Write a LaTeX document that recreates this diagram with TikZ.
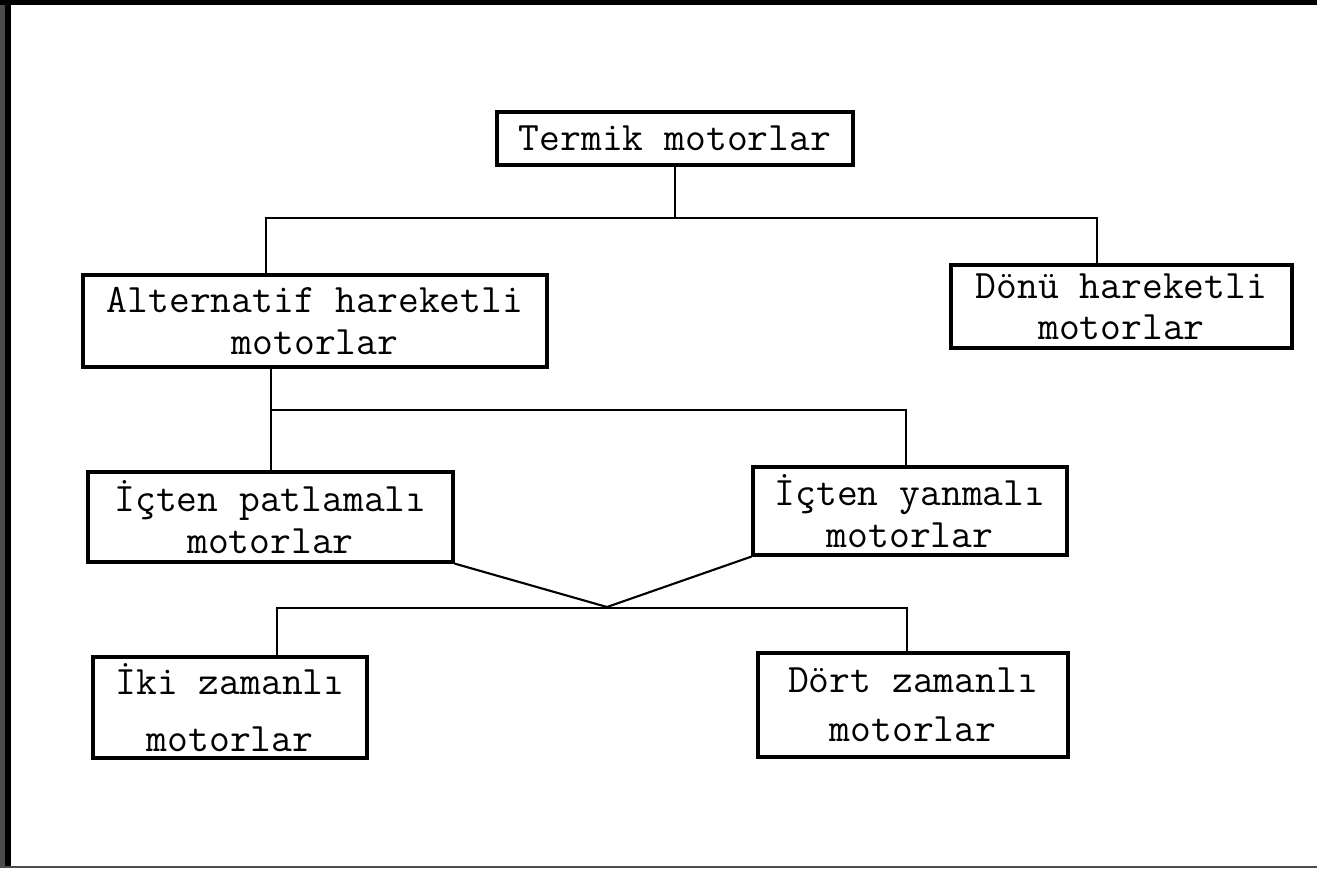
\documentclass[tikz,border=0pt]{standalone}
\begin{document}
\begin{tikzpicture}[x=0.02cm,y=-0.02cm,
  box/.style={draw,line width=1.8pt,align=center,inner sep=0pt,
    font=\ttfamily\fontsize{23}{23.5}\selectfont},
  link/.style={line width=1.2pt}]
  \useasboundingbox (0,0) rectangle (1317,868);
  % scan frame
  \fill[black!70] (0,0) rectangle (5,868);
  \fill[black] (5,0) rectangle (11,868);
  \fill[black] (0,0) rectangle (1317,5);
  \fill[black!70] (0,866) rectangle (1317,868);
  % boxes
  \node[box,minimum width=7.12cm,minimum height=1.06cm] (termik) at (675,138.5) {Termik motorlar};
  \node[box,minimum width=9.28cm,minimum height=1.84cm] (altern) at (315,321) {Alternatif hareketli\\motorlar};
  \node[box,minimum width=6.82cm,minimum height=1.66cm] (donu) at (1121.5,306.5) {Dönü hareketli\\motorlar};
  \node[box,minimum width=7.3cm,minimum height=1.8cm] (patla) at (270.5,517) {İçten patlamalı\\motorlar};
  \node[box,minimum width=6.28cm,minimum height=1.76cm] (yanma) at (910,511) {İçten yanmalı\\motorlar};
  \node[box,minimum width=5.48cm,minimum height=2.02cm] (iki) at (230,707.5) {İki zamanlı\\[0.3cm]motorlar};
  \node[box,minimum width=6.2cm,minimum height=2.08cm] (dort) at (913,705) {Dört zamanlı\\[0.15cm]motorlar};
  % bus points
  \coordinate (b1l) at (266,218);
  \coordinate (b1r) at (1097,218);
  \coordinate (b2l) at (271,410);
  \coordinate (b2r) at (906,410);
  \coordinate (j) at (607,607);
  \coordinate (b3l) at (277,608);
  \coordinate (b3r) at (907,608);
  % lines
  \draw[link] (termik.south) -- (termik.south |- b1l);
  \draw[link] (altern.north -| b1l) |- (b1r) -- (donu.north -| b1r);
  \draw[link] (altern.south -| b2l) -- (patla.north -| b2l);
  \draw[link] (b2l) -- (b2r) -- (yanma.north -| b2r);
  \draw[link] (patla.south east) -- (j) -- (yanma.south west);
  \draw[link] (iki.north -| b3l) |- (b3r) -- (dort.north -| b3r);
\end{tikzpicture}
\end{document}
